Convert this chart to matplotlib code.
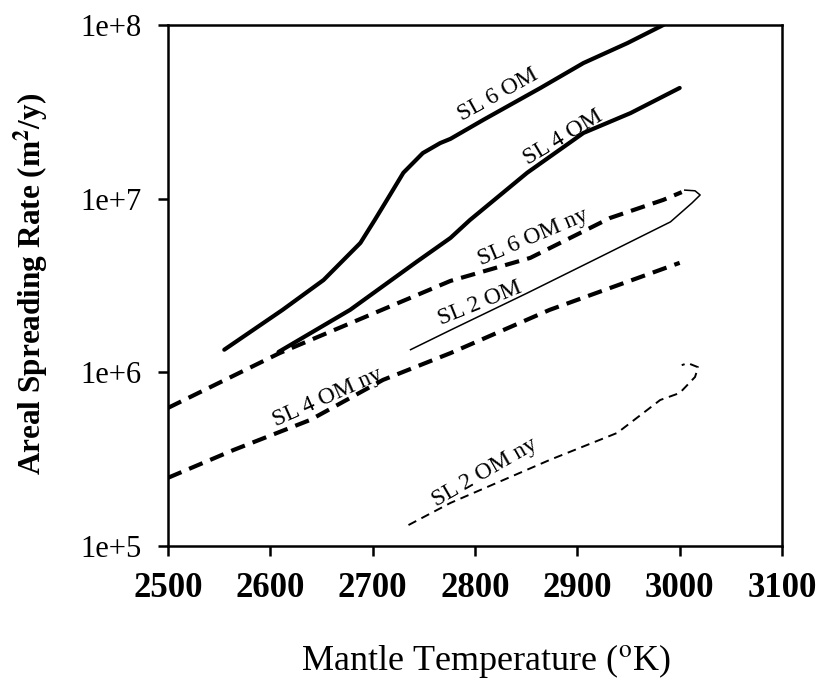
import matplotlib
matplotlib.use("Agg")
import matplotlib.pyplot as plt
from matplotlib.ticker import FixedLocator, FixedFormatter

plt.rcParams['font.family'] = ['Liberation Serif', 'DejaVu Serif']
plt.rcParams['mathtext.fontset'] = 'stix'

# SL 6 OM (solid)
sl6_t = [2555, 2612, 2652, 2688, 2702, 2714, 2730, 2749, 2766, 2776, 2808, 2864, 2906, 2949, 2984]
sl6_r = [1.35e6, 2.29e6, 3.40e6, 5.56e6, 7.53e6, 9.84e6, 1.41e7, 1.83e7, 2.09e7, 2.21e7,
         2.84e7, 4.34e7, 6.04e7, 7.87e7, 1.0e8]

# SL 4 OM (solid)
sl4_t = [2608, 2678, 2743, 2776, 2795, 2851, 2906, 2952, 3000]
sl4_r = [1.31e6, 2.29e6, 4.33e6, 5.94e6, 7.53e6, 1.41e7, 2.39e7, 3.11e7, 4.34e7]

# SL 6 OM ny (dashed)
sl6ny_t = [2500, 2609, 2776, 2854, 2932, 2984, 3002]
sl6ny_r = [6.24e5, 1.29e6, 3.36e6, 4.56e6, 7.74e6, 9.84e6, 1.09e7]

# SL 2 OM (thin solid, hooks back at the end)
sl2_t = [2737, 2776, 2851, 2922, 2991, 3012, 3020, 3015, 3005]
sl2_r = [1.35e6, 1.75e6, 2.86e6, 4.61e6, 7.35e6, 9.44e6, 1.05e7, 1.11e7, 1.12e7]

# SL 4 OM ny (dashed)
sl4ny_t = [2500, 2564, 2639, 2710, 2776, 2873, 3000]
sl4ny_r = [2.47e5, 3.57e5, 5.32e5, 9.04e5, 1.29e6, 2.29e6, 4.27e6]

# SL 2 OM ny (thin dashed, hooks back at the end)
sl2ny_t = [2735, 2776, 2873, 2939, 2981, 3000, 3015, 3018, 3008, 3002]
sl2ny_r = [1.32e5, 1.77e5, 3.13e5, 4.48e5, 6.93e5, 7.6e5, 9.4e5, 1.07e6, 1.13e6, 1.10e6]

xticks = [2500, 2600, 2700, 2800, 2900, 3000, 3100]
yticks = [1e5, 1e6, 1e7, 1e8]
ytick_labels = ["1e+5", "1e+6", "1e+7", "1e+8"]

fig = plt.figure(figsize=(8.19, 6.81), dpi=100)
ax = fig.add_axes([168/819, 1-546/681, (782-168)/819, (546-25)/681])

ax.plot(sl6_t, sl6_r, color="black", lw=3, solid_capstyle="round")
ax.plot(sl4_t, sl4_r, color="black", lw=3, solid_capstyle="round")
ax.plot(sl6ny_t, sl6ny_r, color="black", lw=3, dashes=(3.5, 2))
ax.plot(sl2_t, sl2_r, color="black", lw=1.1)
ax.plot(sl4ny_t, sl4ny_r, color="black", lw=3, dashes=(3.5, 2))
ax.plot(sl2ny_t, sl2ny_r, color="black", lw=1.4, dashes=(4.5, 3))

ax.set_yscale("log")
ax.set_xlim(2500, 3100)
ax.set_ylim(1e5, 1e8)
ax.xaxis.set_major_locator(FixedLocator(xticks))
ax.yaxis.set_major_locator(FixedLocator(yticks))
ax.yaxis.set_major_formatter(FixedFormatter(ytick_labels))
ax.yaxis.set_minor_locator(FixedLocator([]))

for lab in ax.get_xticklabels():
    lab.set_fontweight("bold")
ax.tick_params(axis="x", labelsize=25, length=7, width=1.8, pad=12)
ax.tick_params(axis="y", labelsize=22, length=7, width=1.8, pad=12)
for s in ax.spines.values():
    s.set_linewidth(1.8)

ax.set_xlabel("Mantle Temperature ($^{\\mathrm{o}}$K)", fontsize=26)
ax.set_ylabel("Areal Spreading Rate (m$^{\\mathbf{2}}$/y)", fontsize=22.5, fontweight="bold")
ax.xaxis.set_label_coords(0.518, -0.185)
ax.yaxis.set_label_coords(-0.19, 0.503)

lab_kw = dict(fontsize=17, ha="center", va="center", rotation_mode="anchor")
ax.text(2822, 3.95e7, "SL 6 OM", rotation=29, **lab_kw)
ax.text(2886, 2.26e7, "SL 4 OM", rotation=31, **lab_kw)
ax.text(2857, 6.0e6, "SL 6 OM ny", rotation=23, **lab_kw)
ax.text(2805, 2.48e6, "SL 2 OM", rotation=22, **lab_kw)
ax.text(2656, 7.2e5, "SL 4 OM ny", rotation=24, **lab_kw)
ax.text(2810, 2.64e5, "SL 2 OM ny", rotation=30, **lab_kw)

fig.savefig("out.png", dpi=100)
